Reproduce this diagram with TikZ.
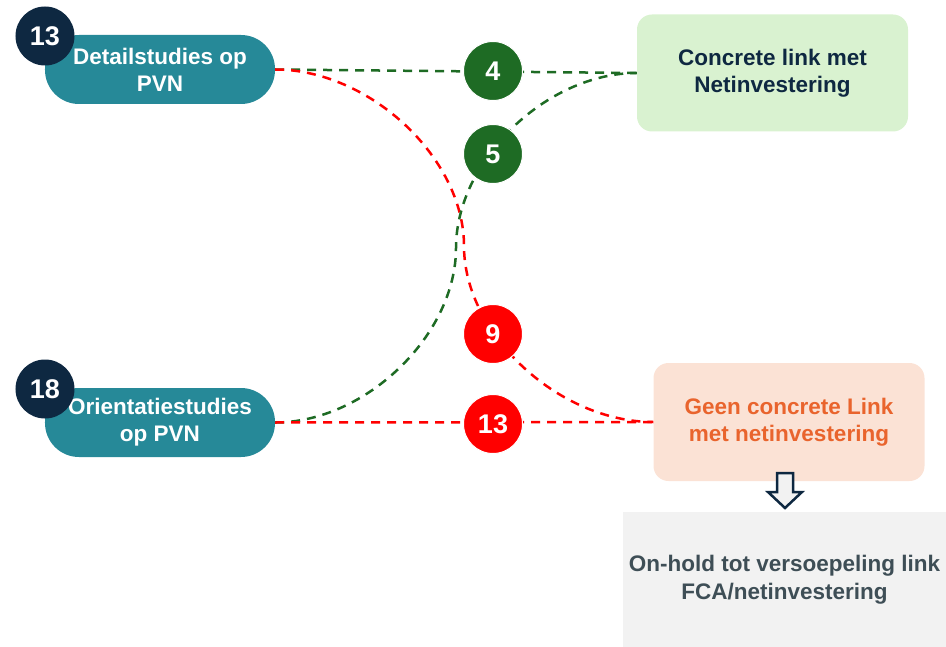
\documentclass[tikz,border=0pt]{standalone}
\usepackage{fontspec}
\setmainfont{Liberation Sans}
\usepackage{tikz}
\definecolor{pvnteal}{RGB}{38,137,152}
\definecolor{darknavy}{RGB}{14,40,65}
\definecolor{linkgreen}{RGB}{30,107,36}
\definecolor{linkgreenbg}{RGB}{217,242,208}
\definecolor{nolinkbg}{RGB}{251,226,213}
\definecolor{nolinktext}{RGB}{233,100,45}
\definecolor{holdbg}{RGB}{242,242,242}
\definecolor{holdtext}{RGB}{62,78,86}
\tikzset{pill/.style={fill=pvnteal,rounded corners=34bp,minimum width=230bp,minimum height=69bp,
		text=white,align=center,font=\bfseries\fontsize{22.5bp}{27bp}\selectfont},
	countbadge/.style={circle,fill=darknavy,text=white,minimum size=59bp,inner sep=0pt,
		font=\bfseries\fontsize{27bp}{30bp}\selectfont},
	greendot/.style={circle,fill=linkgreen,draw=white,line width=1bp,text=white,minimum size=59bp,
		inner sep=0pt,font=\bfseries\fontsize{27bp}{30bp}\selectfont},
	reddot/.style={greendot,fill=red},
	resultbox/.style={rounded corners=15bp,minimum width=271bp,minimum height=117bp,align=center,
		font=\bfseries\fontsize{22.5bp}{27.5bp}\selectfont},
	greenline/.style={draw=linkgreen,line width=2.5bp,dash pattern=on 9bp off 7bp},
	redline/.style={greenline,draw=red}}

\begin{document}
\begin{tikzpicture}[x=1bp,y=-1bp]
	\useasboundingbox (0,0) rectangle (946,647);
	\node[pill] (detail) at (160,69.5) {Detailstudies op\\PVN};
	\node[countbadge] (ndetail) at (45,36) {13};
	\node[pill] (orient) at (160,422.5) {Orientatiestudies\\op PVN};
	\node[countbadge] (norient) at (45,389) {18};
	\node[resultbox,fill=linkgreenbg,text=darknavy] (link) at (772.5,73) {Concrete link met\\Netinvestering};
	\node[resultbox,fill=nolinkbg,text=nolinktext,minimum height=118bp] (nolink) at (789,422) {Geen concrete Link\\met netinvestering};
	\node[fill=holdbg,text=holdtext,minimum width=323bp,minimum height=135bp,align=center,
		font=\bfseries\fontsize{22.5bp}{27.5bp}\selectfont] (hold) at (784.5,579.5) {On-hold tot versoepeling link\\FCA/netinvestering};
	\draw[line width=2.5bp,draw=darknavy,fill=holdbg] (777,473) -- (793,473) -- (793,492) -- (802,492)
		-- (785,508) -- (768,492) -- (777,492) -- cycle;
	\draw[greenline] (detail.east) -- (link.west);
	\draw[redline] (detail.east) .. controls (369.5,69.5) and (464,158) .. (464,246)
		.. controls (464,334) and (558.5,422) .. (nolink.west);
	\draw[greenline] (orient.east) .. controls (365.5,422.5) and (456,335) .. (456,248)
		.. controls (456,160.5) and (546.5,73) .. (link.west);
	\draw[redline] (orient.east) -- (nolink.west);
	\node[greendot] (g4) at (493,71) {4};
	\node[greendot] (g5) at (493,154) {5};
	\node[reddot] (r9) at (493,334) {9};
	\node[reddot] (r13) at (493,424) {13};
\end{tikzpicture}
\end{document}
